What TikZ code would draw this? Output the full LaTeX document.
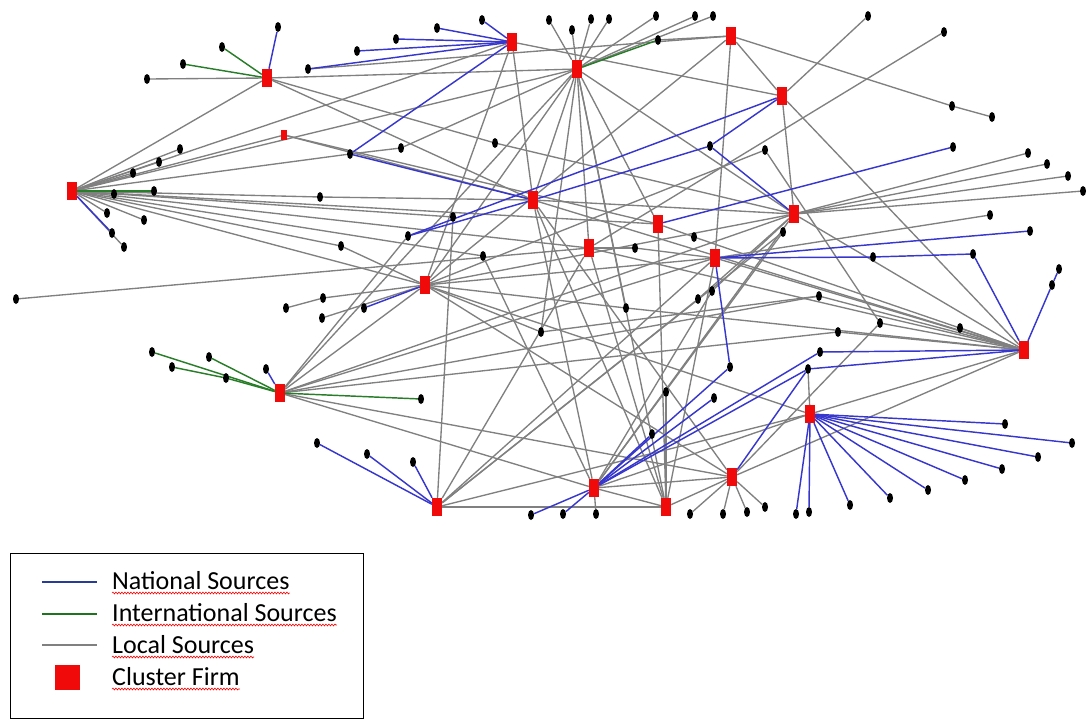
\documentclass[tikz,border=0pt]{standalone}
\usepackage{fontspec}
\setmainfont{Carlito}
\usetikzlibrary{shapes.geometric,backgrounds,decorations.pathmorphing}
\definecolor{natblue}{RGB}{55,55,205}
\definecolor{intgreen}{RGB}{40,125,40}
\definecolor{locgray}{RGB}{128,128,128}
\definecolor{firmred}{RGB}{240,10,10}
\definecolor{legblue}{RGB}{40,60,150}
\definecolor{leggreen}{RGB}{30,115,30}
\begin{document}
\begin{tikzpicture}[x=1pt,y=-1pt,
  firm/.style={rectangle, fill=firmred, minimum width=10pt, minimum height=18pt, inner sep=0pt},
  smallfirm/.style={firm, minimum width=6pt, minimum height=10pt},
  src/.style={ellipse, fill=black, minimum width=6pt, minimum height=10pt, inner sep=0pt},
  loc/.style={draw=locgray, line width=1.35pt},
  nat/.style={draw=natblue, line width=1.45pt},
  intl/.style={draw=intgreen, line width=1.45pt},
  legline/.style={line width=2.4pt},
  lbl/.style={anchor=base west, inner sep=0pt, font=\fontsize{26}{30}\selectfont},
  spell/.style={draw=red, line width=0.6pt, decorate, decoration={snake, amplitude=0.9pt, segment length=3pt}}]
\useasboundingbox (0,0) rectangle (1092,720);

% cluster firms
\foreach \n/\x/\y in {F1/72/191, F2/267/78, F3/512/42, F4/577/69, F5/731/36, F6/782/96,
  F8/533/200, F9/658/224, F10/794/214, F11/589/248, F12/715/258, F13/425/285,
  F14/1024/350, F15/280/393, F16/810/414, F17/437/507, F18/594/488, F19/666/507, F20/732/477}
  \node[firm] (\n) at (\x,\y) {};
\node[smallfirm] (F7) at (284,135) {};

% source nodes
\foreach \n/\x/\y in {a1/278/27, a2/222/47, a3/183/64, a4/147/79, a5/308/69, a6/357/51,
  a7/396/39, a8/437/28, a9/482/20,
  b1/549/20, b2/572/30, b3/591/19, b4/609/19, b5/656/16, b6/695/16, b7/713/16, b8/658/40,
  c1/868/16, c2/944/32, c3/952/106, c4/992/117, c5/953/147, c6/1028/153, c7/1047/164,
  c8/1068/176, c9/1083/191, c10/765/150, c11/710/146,
  e1/180/149, e2/159/162, e3/133/173, e4/114/194, e5/154/191, e6/107/213, e7/144/220,
  e8/112/233, e9/124/247, e10/16/299,
  g1/350/154, g2/401/148, g3/495/143, g4/320/197, g5/453/217, g6/408/236, g7/341/246,
  g8/483/256, g9/323/298, g10/286/308, g11/322/318, g12/364/308, g13/541/332,
  h1/694/237, h2/635/248, h3/783/232, h4/712/291, h5/698/299, h6/626/308,
  i1/990/215, i2/1030/231, i3/973/254, i4/873/257, i5/1059/269, i6/1052/285, i7/819/296,
  i8/880/323, i9/838/332, i10/960/328, i11/820/352, i12/808/369,
  j1/152/352, j2/209/357, j3/172/367, j4/226/378, j5/266/369, j6/421/399, j7/317/443,
  j8/367/454, j9/413/462,
  k1/730/367, k2/666/392, k3/714/398, k4/652/434, k5/531/515, k6/563/514, k7/596/514,
  k8/690/514, k9/723/514, k10/747/512, k11/765/507, k12/796/514, k13/809/512,
  m1/1005/424, m2/1072/443, m3/1038/457, m4/1002/469, m5/965/480, m6/928/490,
  m7/890/498, m8/850/505}
  \node[src] (\n) at (\x,\y) {};

\begin{pgfonlayer}{background}
% local sources
\foreach \a/\b in {F2/a4, F2/F1, F2/F4, F2/g3, F2/F8, a5/F5,
  F1/e1, F1/e2, F1/e3, F1/e4, F1/e6, F1/e7, F1/e9,
  F1/F3, F1/F4, F1/F7, F1/g1, F1/g4, g4/F8, F1/g5, F1/F13, F1/F9, F1/F11, F1/g7, F1/g8,
  F7/F8, F7/F9, g1/g2, g2/F4, g3/F10,
  F3/F8, F3/F6, F3/F13,
  F4/b1, F4/b2, F4/b3, F4/b4, F4/b5, F4/b6, F4/b7, F4/F8, F4/F13, F4/F15, F4/g13,
  F4/h6, F4/F19, F4/F9, F4/F10, F4/F11,
  b8/F5, F5/c3, c3/c4, F5/F6, F5/F13, F5/F12,
  F6/c1, F6/F14, F6/F10, c10/F13, c10/i8,
  F10/c6, F10/c7, F10/c8, F10/c9, F10/F14, F10/F13, F10/F18, F10/F8, F10/F15,
  h3/F18, h3/F17,
  F9/h1, h1/F14, F9/F19,
  F11/e10, F11/h2, h2/F12, F11/c2, F11/F17, F11/F14, F11/F19,
  F12/i1, F12/F14, F12/F15, F12/F17, F12/F13, F12/F19,
  F13/g9, g9/g10, F13/g11, F13/F15, F13/h6, h6/F14, F13/g13, g13/i7, F13/F20, F13/F16,
  g5/F17, g6/F15, g7/F13,
  F15/i7, F15/i9, F15/F20, F15/F18,
  F17/F19, F17/F16, F17/h5, h5/F10, h4/F10, h4/F18,
  F18/k7, F18/F19, F18/F20, F18/F8, F18/g8,
  F19/k2, F19/F20, F19/F8,
  F20/k8, F20/k9, F20/k10, F20/k11, F20/F14, F20/i8, F20/F8,
  F16/i12, F16/F14, F16/F18, F8/F14,
  i9/F14, i10/F14, i8/F14, i7/F14}
  \draw[loc] (\a) -- (\b);
% national sources
\foreach \a/\b in {F2/a1, F3/a5, F3/a6, F3/a7, F3/a8, F3/a9, F3/g1, g1/F8,
  F6/g6, F6/c11, c11/F8, c11/F10, g6/F8, F9/c5,
  F12/i2, F12/i4, i4/i3, i3/F14, F14/i6, i6/i5, F14/i11, F14/i12,
  F13/g12, F17/j7, F17/j8, F17/j9,
  F18/k5, F18/k6, F18/i12, F18/i11, F18/k1, F18/k3, F18/k4, F20/i12, F12/k1,
  F16/m1, F16/m2, F16/m3, F16/m4, F16/m5, F16/m6, F16/m7, F16/m8, F16/k12, F16/k13,
  F1/e8, F15/j5}
  \draw[nat] (\a) -- (\b);
% international sources
\foreach \a/\b in {F2/a2, F2/a3, F4/b8, F1/e5, F15/j1, F15/j2, F15/j4, j4/j3, F15/j6}
  \draw[intl] (\a) -- (\b);
\end{pgfonlayer}

% legend
\node[draw=black, line width=0.8pt, minimum width=353pt, minimum height=165pt,
  anchor=north west, inner sep=0pt] (legendbox) at (10,553) {};
\coordinate (l1a) at (42,582); \coordinate (l1b) at (97,582);
\coordinate (l2a) at (42,614); \coordinate (l2b) at (97,614);
\coordinate (l3a) at (42,645); \coordinate (l3b) at (97,645);
\draw[legline, draw=legblue] (l1a) -- (l1b);
\draw[legline, draw=leggreen] (l2a) -- (l2b);
\draw[legline, draw=locgray] (l3a) -- (l3b);
\node[rectangle, fill=firmred, minimum size=25pt, inner sep=0pt] (legfirm) at (67,677) {};
\node[lbl] (t1) at (112,589) {National Sources};
\node[lbl] (t2) at (112,621) {International Sources};
\node[lbl] (t3) at (112,653) {Local Sources};
\node[lbl] (t4) at (112,685) {Cluster Firm};
\foreach \t in {t1,t2,t3,t4}
  \draw[spell] ([yshift=-4pt]\t.base west) -- ([yshift=-4pt]\t.base east);
\end{tikzpicture}
\end{document}
